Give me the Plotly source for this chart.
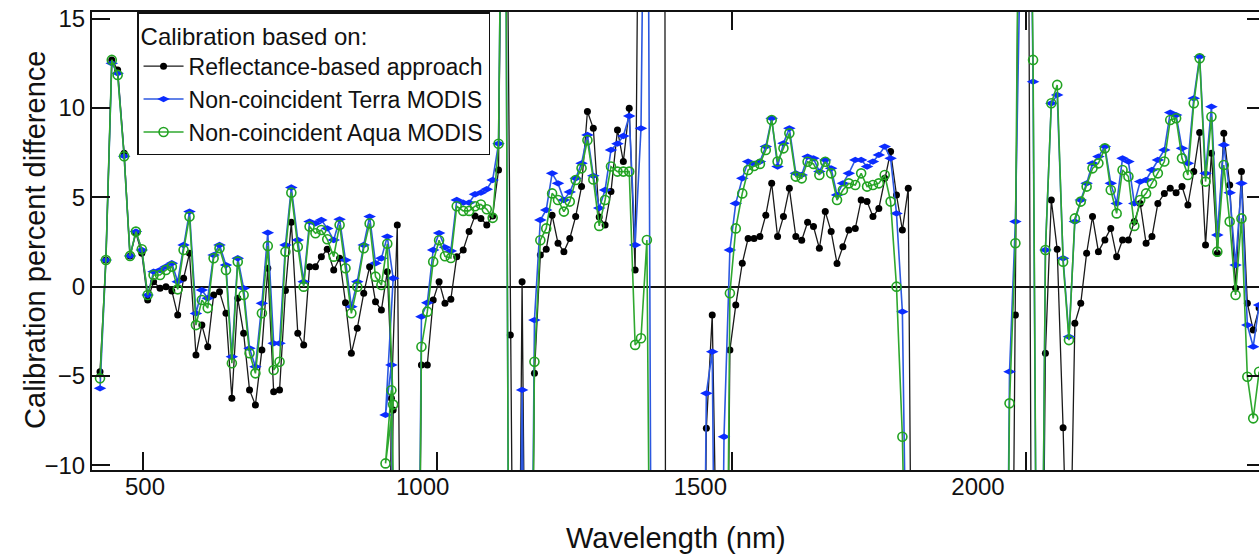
import plotly.graph_objects as go

# ---------------- data ----------------
# wavelengths (nm) of the VNIR segment
wl_vnir = [427, 437, 447, 457, 468, 478, 488, 498, 508, 518,
           529, 539, 549, 559, 569, 579, 590, 600, 610, 620,
           630, 641, 651, 661, 671, 681, 691, 702, 712, 722,
           732, 742, 752, 763, 773, 783, 793, 803, 813, 824,
           834, 844, 854, 864, 875, 885, 895, 905, 915, 925]
refl_vnir = [-4.76, 1.49, 12.69, 12.13, 7.46, 1.72, 3.0, 1.87, -0.75, 0.28,
             -0.09, 0.0, -0.24, -1.59, 0.47, 1.87, -3.82, -2.15, -3.36, -0.47,
             -0.28, -1.49, -6.25, -0.65, -2.61, -5.78, -6.62, -3.54, 1.03, -5.88,
             -5.78, -0.22, 3.6, -2.61, -3.26, 1.12, 1.12, 1.68, 2.09, 0.93,
             1.59, -0.9, -3.73, -2.33, -0.37, 1.12, -0.84, -1.31, 0.84, -6.9]
terra_vnir = [-5.69, 1.49, 12.5, 11.94, 7.3, 1.72, 3.08, 2.05, -0.47, 0.84,
              0.93, 1.12, 1.31, 0.28, 2.33, 4.2, -1.5, -0.19, -0.65, 1.77,
              2.33, 1.21, -3.92, 1.59, -0.09, -3.45, -4.48, -0.93, 3.02, -3.17,
              -3.17, 2.33, 5.55, 2.61, 0.28, 3.64, 3.54, 3.73, 3.26, 2.61,
              3.77, 1.49, -1.12, 0.28, 2.33, 3.92, 1.31, 1.59, 2.8, 0.47]
aqua_vnir = [-5.13, 1.49, 12.69, 11.85, 7.3, 1.72, 3.08, 2.09, -0.47, 0.65,
             0.65, 0.93, 1.12, -0.15, 2.05, 3.92, -2.15, -0.75, -1.2, 1.59,
             2.15, 0.93, -4.29, 1.4, -0.47, -3.73, -4.85, -1.49, 2.28, -4.66,
             -4.2, 1.96, 5.26, 2.24, 0.0, 3.36, 2.99, 3.17, 2.65, 1.68,
             3.45, 1.03, -1.49, 0.0, 2.15, 3.54, 0.56, 0.09, 2.4, -6.6]

# SWIR segment 1 (continues the VNIR line)
wl_swir1 = [912, 922, 932, 943, 953, 963, 973, 983, 993, 1003,
            1013, 1023, 1033, 1044, 1054, 1064, 1074, 1084, 1094, 1104,
            1114, 1124, 1134, 1144, 1155, 1165, 1175, 1185, 1195, 1205,
            1215, 1225, 1235, 1245, 1255, 1265, 1275, 1285, 1295, 1306,
            1316, 1326, 1336, 1346, 1356, 1366, 1376, 1386, 1396]
refl_swir1 = [-40, -6.25, 3.45, -40, -40, -40, -4.38, -4.38, -0.75, 0.28,
              -0.93, -0.7, 1.68, 2.05, 3.08, 3.96, 3.82, 3.45, 3.96, 6.53,
              40, -2.7, -40, 0.28, -40, -4.85, 1.77, 2.1, 4.0, 2.43,
              1.96, 2.7, 3.92, 5.6, 9.8, 8.86, 3.9, 3.45, 5.32, 8.77,
              7.0, 9.98, 0.93, 40, 40, 40, 40, 40, -300]
terra_swir1 = [-7.18, -4.38, -40, -40, -40, -40, -1.68, -0.9, 2.05, 3.0,
               2.2, 2.0, 4.85, 4.7, 4.7, 5.17, 5.26, 5.45, 5.97, 8.0,
               40, -40, -40, -5.78, -40, -1.87, 3.73, 4.29, 6.34, 5.78,
               4.85, 5.3, 6.06, 6.9, 8.49, 6.2, 4.4, 5.41, 7.65, 8.0,
               8.43, 9.55, 2.33, 8.86, 40, -40, None, None, None]
aqua_swir1 = [-9.89, -5.8, -40, -40, -40, -40, -3.36, -1.4, 1.4, 2.6,
              1.7, 1.6, 4.5, 4.24, 4.24, 4.5, 4.6, 4.33, 3.85, 8.0,
              40, -40, -40, -40, -40, -4.2, 2.6, 3.26, 5.22, 4.85,
              4.2, 4.76, 5.97, 6.62, 8.2, 6.0, 3.4, 4.85, 6.72, 6.44,
              6.44, 6.44, -3.26, -2.89, 2.61, -40, None, None, None]

# SWIR segment 2
wl_swir2 = [1447, 1457, 1467, 1477, 1487, 1497, 1507, 1518, 1528, 1538,
            1548, 1558, 1568, 1578, 1588, 1598, 1609, 1619, 1629, 1639,
            1649, 1659, 1669, 1679, 1689, 1699, 1710, 1720, 1730, 1740,
            1750, 1760, 1770, 1780, 1790, 1800, 1810]
refl_swir2 = [-40, -7.93, -1.59, -40, -40, -3.54, -1.03, 1.31, 2.7, 2.7,
              2.8, 4.0, 5.78, 2.8, 3.92, 5.5, 2.8, 2.6, 3.6, 3.36,
              2.15, 4.2, 3.08, 1.3, 2.24, 3.17, 3.26, 4.85, 4.76, 3.92,
              4.38, 6.06, 7.56, 5.13, 3.17, 5.5, -40]
terra_swir2 = [-40, -5.97, -3.64, -40, -8.4, 2.05, 4.66, 6.06, 7.0, 6.87,
               7.0, 7.84, 9.42, 6.72, 8.02, 8.86, 6.34, 6.25, 7.28, 7.18,
               6.44, 7.09, 6.62, 5.13, 5.78, 6.34, 7.09, 7.09, 6.72, 7.0,
               7.37, 7.84, 7.18, 4.1, -1.4, -25, None]
aqua_swir2 = [None, None, None, None, -40, -0.37, 3.26, 5.22, 6.53, 6.75,
              6.87, 7.65, 9.33, 7.0, 7.74, 8.58, 6.16, 6.06, 6.99, 6.87,
              6.25, 6.99, 6.34, 4.85, 5.41, 5.78, 5.69, 6.34, 5.6, 5.69,
              5.78, 6.25, 4.76, 0.0, -8.4, -25, None]

# SWIR segment 3
wl_swir3 = [1962, 1972, 1982, 1992, 2002, 2012, 2022, 2033, 2043, 2053,
            2063, 2073, 2083, 2093, 2103, 2113, 2123, 2134, 2144, 2154,
            2164, 2174, 2184, 2194, 2204, 2214, 2224, 2235, 2245, 2255,
            2265, 2275, 2285, 2295, 2305, 2315, 2325, 2336, 2346, 2356,
            2366, 2376, 2386, 2396]
refl_swir3 = [None, -40, -1.59, 40, 40, -40, -40, -3.73, 4.85, 2.09,
              -7.9, -20, -2.05, -0.93, 1.87, 3.92, 1.96, 2.61, 3.26, 1.68,
              2.61, 2.61, 3.64, 4.66, 2.43, 2.8, 4.66, 5.22, 5.5, 5.26,
              5.6, 4.57, 6.44, 8.62, 2.33, 7.46, 1.87, 8.58, 5.69, -0.09,
              6.44, -0.93, -2.43, -1.2]
terra_swir3 = [-40, -4.76, 3.64, 40, 40, 11.47, -40, 2.05, 10.26, 10.73,
               1.59, -2.8, 3.64, 4.85, 5.78, 6.9, 7.28, 7.84, 5.78, 4.66,
               7.18, 7.0, 4.66, 5.88, 5.97, 6.53, 7.09, 7.65, 9.74, 9.6,
               7.74, 6.9, 10.54, 12.87, 6.34, 10.07, 2.89, 7.93, 5.26, 1.21,
               5.78, -2.15, -3.36, -1.03]
aqua_swir3 = [-40, -6.53, 2.43, 40, 40, 12.69, -40, 2.05, 10.26, 11.29,
              1.4, -2.99, 3.82, 4.76, 5.6, 6.62, 6.9, 7.74, 5.41, 4.1,
              6.53, 6.16, 3.4, 4.85, 5.22, 5.78, 6.34, 7.0, 9.33, 9.42,
              7.18, 6.25, 10.26, 12.78, 5.88, 9.51, 1.96, 6.81, 3.64, -0.47,
              3.82, -5.04, -7.37, -4.76]

series_names = ["Reflectance-based approach",
                "Non-coincident Terra MODIS",
                "Non-coincident Aqua MODIS"]
x_ticks = [500, 1000, 1500, 2000]
y_ticks = [-10, -5, 0, 5, 10, 15]


def join(*segments):
    """VNIR+SWIR1 are one connected run, later segments are separated by a gap."""
    out = list(segments[0])
    for seg in segments[1:]:
        out.append(None)
        out.extend(seg)
    return out


wl_all = join(wl_vnir + wl_swir1, wl_swir2, wl_swir3)
refl_all = join(refl_vnir + refl_swir1, refl_swir2, refl_swir3)
terra_all = join(terra_vnir + terra_swir1, terra_swir2, terra_swir3)
aqua_all = join(aqua_vnir + aqua_swir1, aqua_swir2, aqua_swir3)

FONT = "Liberation Sans, Arial, sans-serif"

fig = go.Figure()
fig.add_trace(go.Scatter(
    x=wl_all, y=refl_all, name=series_names[0], mode="lines+markers",
    line=dict(color="#1a1a1a", width=1.3),
    marker=dict(symbol="circle", size=7, color="#000000"),
))
fig.add_trace(go.Scatter(
    x=wl_all, y=terra_all, name=series_names[1], mode="lines+markers",
    line=dict(color="#2c58e0", width=1.6),
    marker=dict(symbol="diamond-wide", size=9, color="#0b2cff"),
))
fig.add_trace(go.Scatter(
    x=wl_all, y=aqua_all, name=series_names[2], mode="lines+markers",
    line=dict(color="#2fa82f", width=1.6),
    marker=dict(symbol="circle-open", size=9, color="#22a322",
                line=dict(width=1.6)),
))
# helper trace so the overlay axes (right frame, label row) are drawn
fig.add_trace(go.Scatter(x=[None], y=[None], xaxis="x2", yaxis="y2",
                         showlegend=False, hoverinfo="skip"))

y_range = [-10.26, 15.37]
fig.update_layout(
    width=1259, height=554,
    margin=dict(l=92, r=0, t=12, b=84),
    paper_bgcolor="white", plot_bgcolor="white",
    font=dict(family=FONT, size=24, color="#111"),
    showlegend=True,
    legend=dict(
        x=0.0386, y=1, xanchor="left", yanchor="top",
        bgcolor="white", bordercolor="#111", borderwidth=1.5,
        font=dict(size=23, family=FONT, color="#111"),
        title=dict(text="Calibration based on:", font=dict(size=24, family=FONT)),
        tracegroupgap=0, itemwidth=40,
    ),
    xaxis=dict(
        range=[413.4, 2395.8], tickvals=x_ticks, showticklabels=False,
        ticks="inside", ticklen=18, tickwidth=1.5, tickcolor="#111",
        showline=True, linewidth=2, linecolor="#111", mirror="ticks",
        showgrid=False, zeroline=False,
    ),
    # label row of the wavelength axis, as placed in the reference
    xaxis2=dict(
        overlaying="x", anchor="y", side="bottom",
        range=[404.6, 2506], tickvals=x_ticks, ticks="",
        showline=False, showgrid=False, zeroline=False,
        tickfont=dict(size=24, family=FONT, color="#111"),
    ),
    yaxis=dict(
        range=y_range, tickvals=y_ticks,
        ticks="inside", ticklen=18, tickwidth=1.5, tickcolor="#111",
        showline=True, linewidth=2, linecolor="#111",
        showgrid=False, zeroline=True, zerolinecolor="#111", zerolinewidth=1.5,
        tickfont=dict(size=24, family=FONT),
    ),
    yaxis2=dict(
        overlaying="y", side="right", range=y_range, tickvals=y_ticks,
        ticks="inside", ticklen=12, tickwidth=1.5, tickcolor="#111",
        showticklabels=False, showline=True, linewidth=2, linecolor="#111",
        showgrid=False, zeroline=False,
    ),
    annotations=[
        dict(text="Wavelength (nm)", xref="paper", yref="paper",
             x=0.5, y=-0.148, xanchor="center", yanchor="middle",
             showarrow=False, font=dict(size=29, family=FONT, color="#111")),
        dict(text="Calibration percent difference", xref="paper", yref="paper",
             x=-0.049, y=0.502, xanchor="center", yanchor="middle", textangle=-90,
             showarrow=False, font=dict(size=29, family=FONT, color="#111")),
    ],
)

fig.write_html("out.html")
